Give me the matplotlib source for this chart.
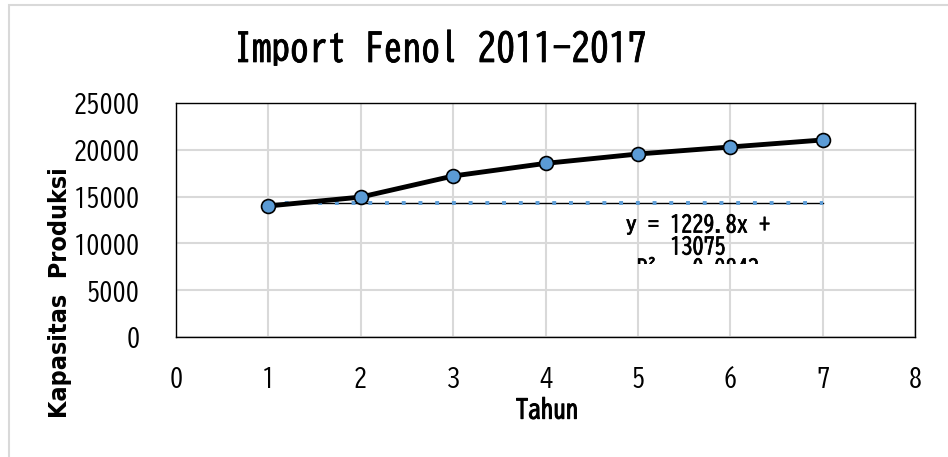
import matplotlib
matplotlib.use('Agg')
import matplotlib.pyplot as plt
import matplotlib.patheffects as pe
from matplotlib.patches import Rectangle
from matplotlib.transforms import Bbox, TransformedBbox

# data
tahun = [1, 2, 3, 4, 5, 6, 7]
kapasitas = [14000, 14950, 17200, 18550, 19550, 20300, 21050]
trend_x = [1, 7]
trend_y = [14300, 14300]
x_ticks = [0, 1, 2, 3, 4, 5, 6, 7, 8]
y_ticks = [0, 5000, 10000, 15000, 20000, 25000]

gothic = ['BIZ UDGothic', 'IPAGothic', 'DejaVu Sans']

fig = plt.figure(figsize=(9.48, 4.57), dpi=100)
fig.patches.append(Rectangle((9 / 948, -0.1), 1.1, 1 - 5 / 457 + 0.1,
                             transform=fig.transFigure, fill=False,
                             edgecolor='#d9d9d9', linewidth=1.5))

ax = fig.add_axes([176 / 948, 1 - 337 / 457, (915 - 176) / 948, (337 - 103) / 457])

ax.grid(True, color='#d9d9d9', linewidth=1.5)
ax.set_axisbelow(True)

# trendline
ax.plot(trend_x, trend_y, color='black', linewidth=1.0, zorder=2)
ax.plot(trend_x, trend_y, color='#5b9bd5', linewidth=2.8,
        linestyle=(0, (1, 3.3)), zorder=2)

# data series
ax.plot(tahun, kapasitas, color='black', linewidth=3.5, marker='o',
        markersize=10, markerfacecolor='#5b9bd5', markeredgecolor='black',
        markeredgewidth=1.2, zorder=3)

ax.set_xlim(0, 8)
ax.set_ylim(0, 25000)
ax.set_xticks(x_ticks)
ax.set_yticks(y_ticks)
ax.tick_params(length=0)
ax.tick_params(axis='x', pad=21)
ax.tick_params(axis='y', pad=26)
for lbl in ax.get_xticklabels() + ax.get_yticklabels():
    lbl.set_family(gothic)
    lbl.set_fontsize(19)
for s in ax.spines.values():
    s.set_color('black')
    s.set_linewidth(1.0)

fig.text(440 / 948, 1 - 48 / 457, 'Import Fenol 2011-2017', family=gothic,
         fontsize=27, ha='center', va='center',
         path_effects=[pe.withStroke(linewidth=0.6, foreground='black')])
fig.text(547 / 948, 1 - 409 / 457, 'Tahun', family=gothic,
         fontsize=18, ha='center', va='center',
         path_effects=[pe.withStroke(linewidth=0.8, foreground='black')])
fig.text(60 / 948, 1 - 293 / 457, 'Kapasitas  Produksi', family='DejaVu Sans',
         fontstretch='condensed', fontweight='bold', fontsize=18,
         rotation=90, ha='center', va='center')

# trendline equation, last line cut off like in the source
clip = TransformedBbox(Bbox([[0, 1 - 264 / 457], [1, 1]]), fig.transFigure)
eq = fig.text(698 / 948, 1 - 246 / 457, 'y = 1229.8x +\n13075\nR² = 0.9843',
              family=gothic, fontsize=16, ha='center', va='center',
              linespacing=1.0, multialignment='center',
              path_effects=[pe.withStroke(linewidth=0.5, foreground='black')])
eq.set_clip_box(clip)
eq.set_clip_on(True)

fig.savefig('out.png', dpi=100)
